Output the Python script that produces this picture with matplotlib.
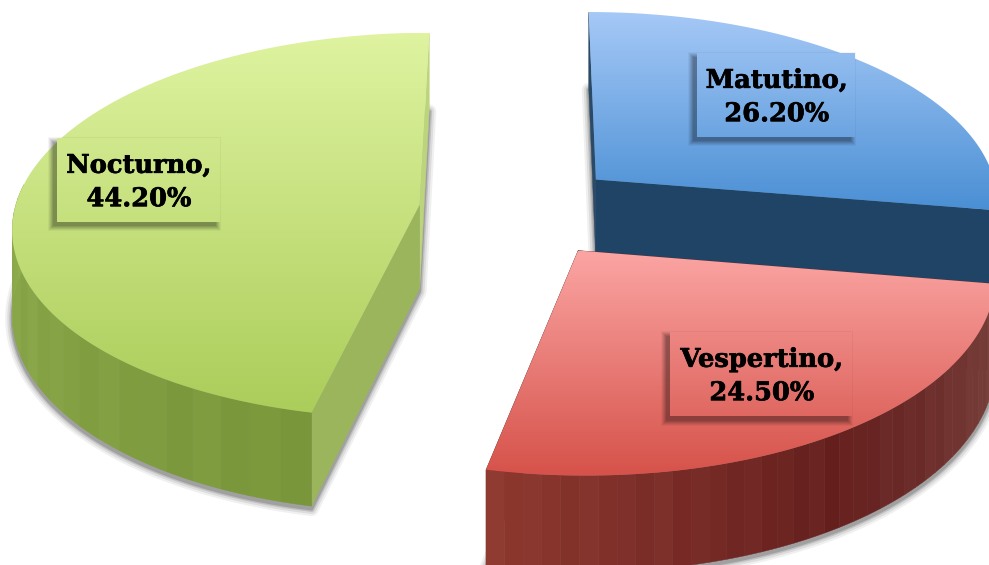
import numpy as np
import matplotlib
matplotlib.use('Agg')
import matplotlib.pyplot as plt
import matplotlib.patheffects as pe
from matplotlib.colors import LinearSegmentedColormap, to_rgb
from matplotlib.patches import Polygon, Rectangle


categories = ['Matutino', 'Vespertino', 'Nocturno']
values = [26.2, 24.5, 44.2]

top_colors = [['#a6c9f7', '#4a8fd4'], ['#fba5a3', '#d6524a'], ['#dff3a0', '#abcd5a']]
rim_colors = [['#1f4466', '#2a4f75'], ['#7a4540', '#65201e', '#8f3a30'], ['#79963a', '#a5c260']]
cut_colors = [['#2a4a68', '#1f4466'], ['#6a2a28', '#6a2a28'], ['#9ab55c', '#bcd47c']]
label_pos = [(776, 95), (761, 374), (138, 180)]
label_size = [(158, 84), (182, 85), (163, 84)]

explode = 0.25
cx, cy = 520, 210
A, B, p, D = 405, 191.6, 0.107, 84
strip_shade = [0, 0.006, -0.005, 0.01, -0.008, 0.003, -0.003, 0.009, -0.006]


def project(X, Y, z=0):
    w = 1 + p * Y
    return np.column_stack([cx + A * X / w, cy - B * Y / w + z * D / w])


def blend(stops, t):
    stops = np.array([to_rgb(c) for c in stops])
    pos = np.linspace(0, 1, len(stops))
    return np.array([np.interp(t, pos, stops[:, k]) for k in range(3)])


fig = plt.figure(figsize=(9.89, 5.65), dpi=100)
ax = fig.add_axes([0, 0, 1, 1])
ax.set_xlim(0, 989)
ax.set_ylim(565, 0)
ax.axis('off')

frac = np.array(values) / sum(values)
edges = np.concatenate([[0], np.cumsum(frac)]) * 2 * np.pi

slices = []
for i in range(len(values)):
    a0, a1 = edges[i], edges[i + 1]
    mid = (a0 + a1) / 2
    ox, oy = explode * np.sin(mid), explode * np.cos(mid)
    th = np.linspace(a0, a1, 121)
    slices.append((ox, oy, ox + np.sin(th), oy + np.cos(th)))

# blurred floor shadow, drawn first so it only shows on the white
for lw, grey in [(10, '#f0f0f0'), (7, '#dcdcdc'), (4, '#c0c0c0'), (2, '#a0a0a0')]:
    for ox, oy, rx, ry in slices:
        pts = project(np.r_[ox, rx], np.r_[oy, ry], 1)
        pts[:, 1] += 3
        ax.add_patch(Polygon(pts, closed=True, fc=grey, ec=grey, lw=lw,
                             joinstyle='round', zorder=1))

for i in [0, 2, 1]:
    ox, oy, rx, ry = slices[i]
    z0 = 10 + i if i != 1 else 20

    # flat cut faces, the dark Matutino one sits in front of its own rim
    cut_z = z0 + 0.15 if i == 0 else z0
    for j, k in enumerate([-1, 0]):
        quad = np.vstack([project(np.array([ox, rx[k]]), np.array([oy, ry[k]]), 0),
                          project(np.array([rx[k], ox]), np.array([ry[k], oy]), 1)])
        c = cut_colors[i][0] if k == 0 else cut_colors[i][1]
        ax.add_patch(Polygon(quad, closed=True, fc=c, ec=c, lw=0.3, zorder=cut_z))

    # outer rim as narrow strips, only the part facing the viewer
    n = len(rx) - 1
    for s in range(0, n, 3):
        e = min(s + 3, n)
        if ry[s] - oy > 0.05 and ry[e] - oy > 0.05:
            continue
        t = s / n
        col = np.clip(blend(rim_colors[i], t) + strip_shade[(s // 3) % len(strip_shade)], 0, 1)
        quad = np.vstack([project(rx[s:e + 1], ry[s:e + 1], 0),
                          project(rx[s:e + 1][::-1], ry[s:e + 1][::-1], 1)])
        ax.add_patch(Polygon(quad, closed=True, fc=col, ec=col, lw=0.3, zorder=z0 + 0.1))

    # top surface with vertical gradient
    top = project(np.r_[ox, rx], np.r_[oy, ry], 0)
    y0, y1 = top[:, 1].min(), top[:, 1].max()
    cmap = LinearSegmentedColormap.from_list('top%d' % i, top_colors[i])
    grad = np.linspace(0, 1, 256)[:, None]
    im = ax.imshow(grad, cmap=cmap, vmin=0, vmax=1, aspect='auto', zorder=z0 + 0.2,
                   extent=(top[:, 0].min(), top[:, 0].max(), y1, y0))
    clip = Polygon(top, closed=True, transform=ax.transData)
    im.set_clip_path(clip)

    # label box: shadow, then the same gradient over it, then text
    lx, ly = label_pos[i]
    w, h = label_size[i]
    bx, by = lx - w / 2, ly - h / 2
    for grow, alpha in [(5, 0.04), (4, 0.06), (3, 0.07), (2, 0.08), (1, 0.09), (0, 0.1)]:
        ax.add_patch(Rectangle((bx - 4 - grow, by + 4 - grow), w + 2 * grow, h + 2 * grow,
                               fc='black', ec='none', alpha=alpha, zorder=30))
    box = Rectangle((bx, by), w, h, transform=ax.transData)
    im2 = ax.imshow(grad, cmap=cmap, vmin=0, vmax=1, aspect='auto', zorder=31,
                    extent=(top[:, 0].min(), top[:, 0].max(), y1, y0))
    im2.set_clip_path(box)
    txt = ax.text(lx + 1, ly + 2, '%s,\n%.2f%%' % (categories[i], values[i]), ha='center', va='center',
                  family='DejaVu Serif', weight='bold', fontsize=18.5, linespacing=1.42,
                  color='black', zorder=32)
    txt.set_path_effects([pe.withStroke(linewidth=0.5, foreground='black')])

ax.set_xlim(0, 989)
ax.set_ylim(565, 0)

fig.savefig('out.png', dpi=100)
